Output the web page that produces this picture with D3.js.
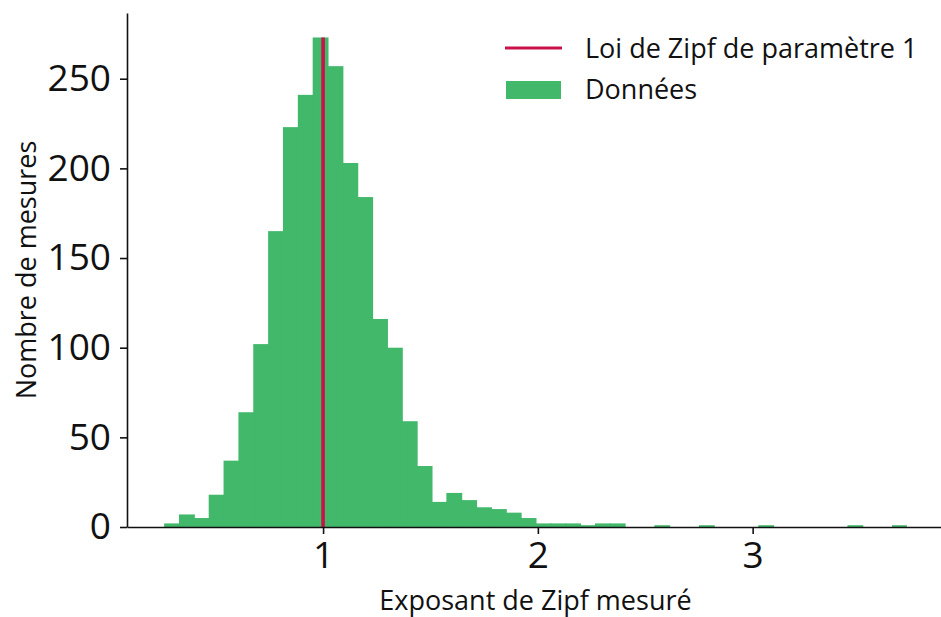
<!DOCTYPE html>
<html>
<head>
<meta charset="utf-8">
<script src="https://cdn.jsdelivr.net/npm/d3@7"></script>
<style>
  body { margin: 0; background: #fff; }
  svg text { font-family: "Open Sans", "Noto Sans", sans-serif; fill: #111; }
</style>
</head>
<body>
<svg width="941" height="617"></svg>
<script>
// histogram of measured Zipf exponents, 50 equal bins
var binLo = 0.26, binHi = 3.718;
var counts = [2, 7, 5, 18, 37, 64, 102, 165, 223, 241,
              273, 257, 203, 184, 116, 100, 59, 34, 14, 19,
              15, 11, 10, 8, 5, 2, 2, 2, 1, 2,
              2, 0, 0, 1, 0, 0, 1, 0, 0, 0,
              1, 0, 0, 0, 0, 0, 1, 0, 0, 1];
var xTicks = [1, 2, 3];
var yTicks = [0, 50, 100, 150, 200, 250];
var zipfParam = 1;
var legendLabels = ["Loi de Zipf de paramètre 1", "Données"];

var green = "#42b86a", red = "#c9124a";

var svg = d3.select("svg"),
    margin = {top: 13, right: -3, bottom: 90, left: 127},
    width = +svg.attr("width") - margin.left - margin.right,
    height = +svg.attr("height") - margin.top - margin.bottom;

var binW = (binHi - binLo) / counts.length;
var bins = counts.map(function(c, i) {
  return {x0: binLo + i * binW, x1: binLo + (i + 1) * binW, n: c};
});

// matplotlib-like 5% margins
var pad = (binHi - binLo) * 0.05;
var x = d3.scaleLinear().domain([binLo - pad, binHi + pad]).range([0, width]);
var y = d3.scaleLinear().domain([0, d3.max(counts) * 1.05]).range([height, 0]);

var g = svg.append("g")
    .attr("transform", "translate(" + margin.left + "," + margin.top + ")");

g.selectAll(".bar")
    .data(bins)
  .enter().append("rect")
    .attr("class", "bar")
    .attr("x", function(d) { return x(d.x0); })
    .attr("width", function(d, i) { return x(d.x1) - x(d.x0) + (i < bins.length - 1 ? 1 : 0); })
    .attr("y", function(d) { return y(d.n); })
    .attr("height", function(d) { return y(0) - y(d.n); })
    .attr("fill", green);

// reference line at exponent 1, up to the tallest bin
g.append("line")
    .attr("x1", x(zipfParam)).attr("x2", x(zipfParam))
    .attr("y1", y(0)).attr("y2", y(d3.max(counts)))
    .attr("stroke", red)
    .attr("stroke-width", 3.6);

var xAxis = g.append("g")
    .attr("transform", "translate(0," + height + ")")
    .call(d3.axisBottom(x).tickValues(xTicks).tickFormat(d3.format("d")).tickSize(7).tickPadding(8).tickSizeOuter(0));

var yAxis = g.append("g")
    .call(d3.axisLeft(y).tickValues(yTicks).tickSize(7).tickPadding(9).tickSizeOuter(0));

[xAxis, yAxis].forEach(function(a) {
  a.select(".domain").attr("stroke", "#111").attr("stroke-width", 1.6);
  a.selectAll(".tick line").attr("stroke", "#111").attr("stroke-width", 1.6);
  a.selectAll(".tick text").attr("font-size", 37).attr("fill", "#111")
    .style("font-family", "'Open Sans', sans-serif");
});

g.append("text")
    .attr("x", width / 2)
    .attr("y", height + 83)
    .attr("text-anchor", "middle")
    .attr("font-size", 27)
    .text("Exposant de Zipf mesuré");

g.append("text")
    .attr("transform", "translate(" + (36 - margin.left) + "," + (height / 2) + ") rotate(-90)")
    .attr("text-anchor", "middle")
    .attr("font-size", 27)
    .text("Nombre de mesures");

// legend
var legend = svg.append("g").attr("transform", "translate(505,0)");
legend.append("line")
    .attr("x1", 0).attr("x2", 57).attr("y1", 48).attr("y2", 48)
    .attr("stroke", red).attr("stroke-width", 3);
legend.append("rect")
    .attr("x", 1).attr("y", 81).attr("width", 55).attr("height", 18)
    .attr("fill", green);
legend.selectAll(".lab")
    .data(legendLabels)
  .enter().append("text")
    .attr("class", "lab")
    .attr("x", 80)
    .attr("y", function(d, i) { return 58 + i * 41; })
    .attr("font-size", 27)
    .text(function(d) { return d; });
</script>
</body>
</html>
